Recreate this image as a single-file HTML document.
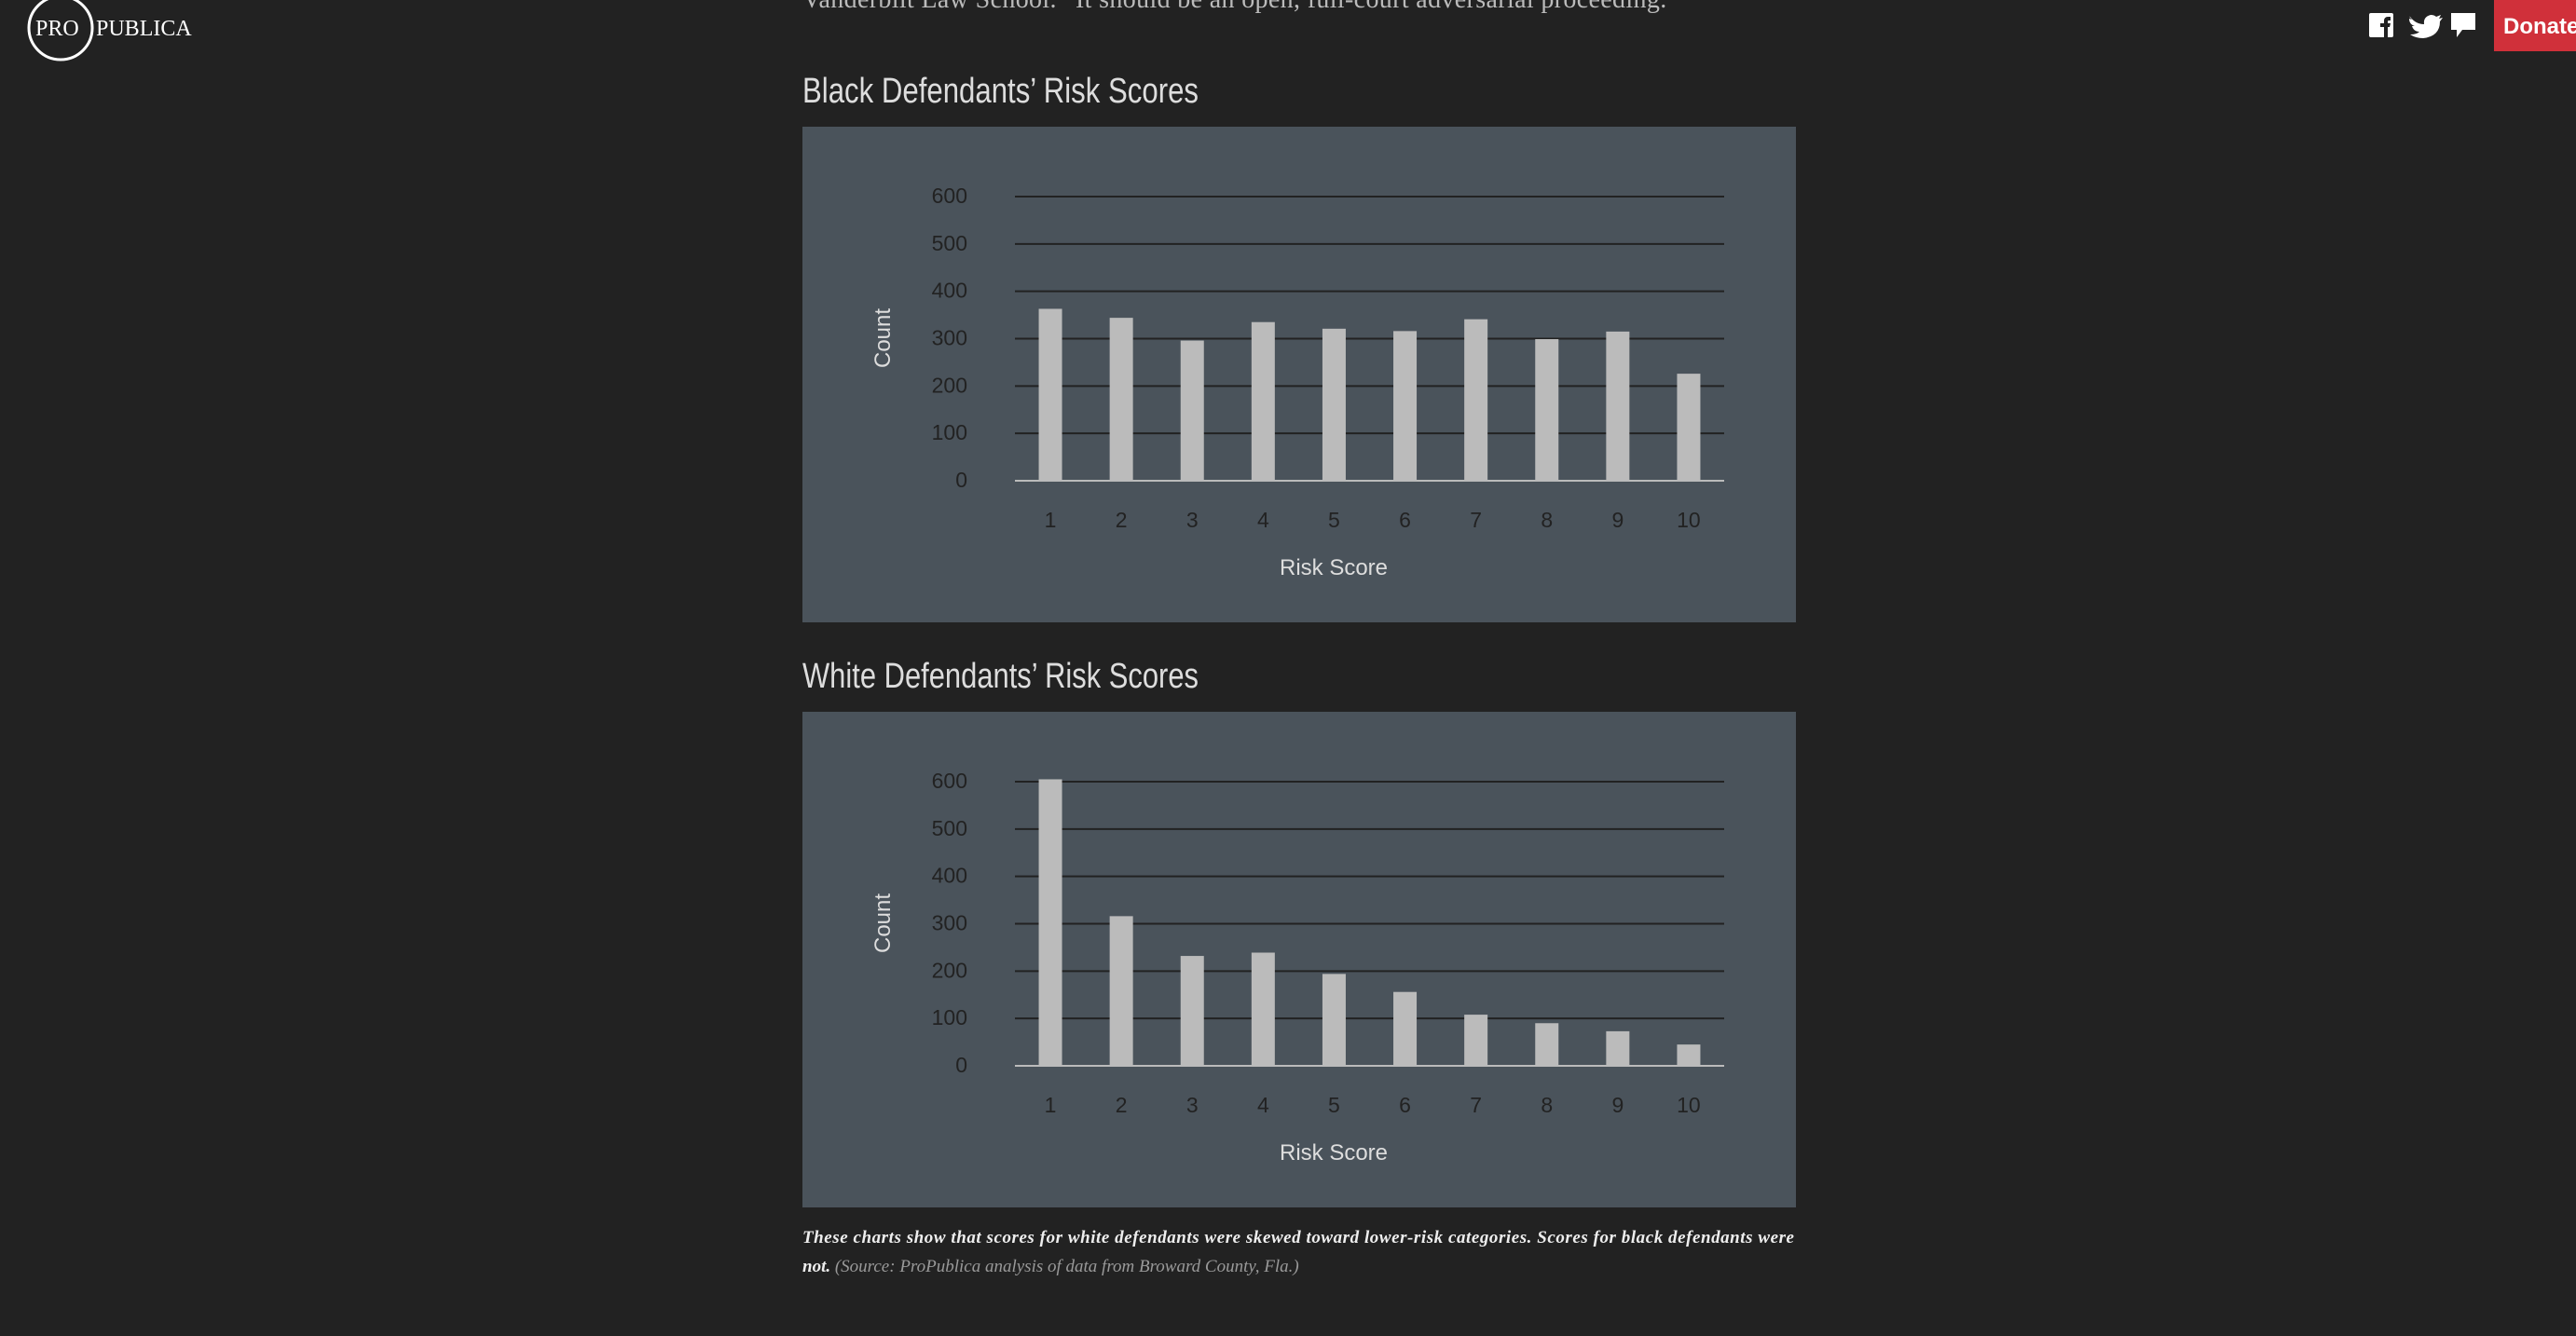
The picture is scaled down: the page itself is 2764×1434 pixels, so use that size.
<!DOCTYPE html>
<html><head><meta charset="utf-8"><style>
html,body{margin:0;padding:0;background:#222222;}
svg{display:block;}
</style></head><body>
<svg id="root" width="2764" height="1434" viewBox="0 0 2764 1434" xmlns="http://www.w3.org/2000/svg">
<rect x="0" y="0" width="2764" height="1434" fill="#222222"/>
<g>
<circle cx="65" cy="30" r="34" fill="none" stroke="#fff" stroke-width="3"/>
<text x="38" y="38" font-family="Liberation Serif, serif" font-size="24" fill="#fff">PRO</text>
<text x="103" y="38" font-family="Liberation Serif, serif" font-size="24" fill="#fff">PUBLICA</text>
</g>
<text x="861" y="8" font-family="Liberation Serif, serif" font-size="28" fill="#bbb" textLength="940">Vanderbilt Law School. “It should be an open, full-court adversarial proceeding.”</text>
<g>
<g>
<rect x="2542" y="14" width="26" height="26" rx="2" fill="#fff"/>
<path d="M2558 40 v-11 h-4 v-4 h4 v-3 a4 4 0 0 1 4 -4 h3 v4 h-2 a1 1 0 0 0 -1 1 v2 h3 l-1 4 h-2 v11z" fill="#222"/>
</g>
<path d="M2586 18 q6 8 15 8 q-1 -8 7 -10 q4 0 6 2 l5 -2 l-2 4 l4 -1 l-3 4 q0 16 -18 18 q-8 0 -14 -4 q7 0 10 -3 q-6 0 -8 -6 l3 0 q-6 -2 -6 -8 l3 1 q-4 -4 -2 -3z" fill="#fff"/>
<path d="M2630 14 h26 v18 h-14 l-6 8 v-8 h-6z" fill="#fff"/>
</g>
<rect x="2676" y="0" width="88" height="55" fill="#d0303a"/>
<text x="2686" y="36" font-family="Liberation Sans, sans-serif" font-weight="bold" font-size="24" fill="#fff" pointer-events="none">Donate</text>

<g id="c1"></g>
<g id="c2"></g>

<text x="861" y="1334" font-family="Liberation Serif, serif" font-style="italic" font-weight="bold" font-size="19" fill="#eee" textLength="1064">These charts show that scores for white defendants were skewed toward lower-risk categories. Scores for black defendants were</text>
<text x="861" y="1365" font-family="Liberation Serif, serif" font-style="italic" font-size="19" fill="#999"><tspan font-weight="bold" fill="#eee">not.</tspan> (Source: ProPublica analysis of data from Broward County, Fla.)</text>
</svg>
<script>
const categories = ["1","2","3","4","5","6","7","8","9","10"];
const blackValues = [363, 344, 296, 335, 321, 316, 341, 299, 315, 226];
const whiteValues = [605, 316, 232, 239, 194, 156, 108, 90, 73, 45];
const yTicks = [0, 100, 200, 300, 400, 500, 600];
const NS = "http://www.w3.org/2000/svg";
function mk(tag, attrs, parent){const e=document.createElementNS(NS,tag);for(const k in attrs)e.setAttribute(k,attrs[k]);parent.appendChild(e);return e;}
function drawChart(g, offY, title, values, prefix){
  const plotL=1089, plotR=1850, y0=516+offY, pxPer=305/600;
  const yScale=v=>y0-v*pxPer;
  const band=(plotR-plotL)/categories.length;
  const xScale=i=>plotL+band*(i+0.5);
  const t=mk("text",{x:861,y:110+offY,"font-family":"Liberation Sans, sans-serif","font-size":38,fill:"#dddddd",textLength:425,lengthAdjust:"spacingAndGlyphs"},g);
  t.textContent=title;
  
  
  const p=mk("rect",{x:861,y:136+offY,width:1066,height:532,fill:"#4a535b"},g);
  
  
  yTicks.forEach(v=>{
    const y=yScale(v);
    const l=mk("line",{x1:plotL,x2:plotR,y1:y,y2:y,stroke:v===0?"#bbbbbb":"#222222","stroke-width":2},g);
    
    
    const tx=mk("text",{x:1038,y:y+7,"text-anchor":"end","font-family":"Liberation Sans, sans-serif","font-size":23,fill:"#222222"},g);
    tx.textContent=v;
    
    
  });
  values.forEach((v,i)=>{
    const b=mk("rect",{x:xScale(i)-12.5,y:yScale(v),width:25,height:v*pxPer,fill:"#bbbbbb"},g);
    
    
    const tx=mk("text",{x:xScale(i),y:566+offY,"text-anchor":"middle","font-family":"Liberation Sans, sans-serif","font-size":23,fill:"#222222"},g);
    tx.textContent=categories[i];
    
    
  });
  const xt=mk("text",{x:1431,y:617+offY,"text-anchor":"middle","font-family":"Liberation Sans, sans-serif","font-size":24,fill:"#dddddd"},g);
  xt.textContent="Risk Score";
  
  
  const yt=mk("text",{x:0,y:0,transform:`translate(955 ${363+offY}) rotate(-90)`,"text-anchor":"middle","font-family":"Liberation Sans, sans-serif","font-size":24,fill:"#dddddd"},g);
  yt.textContent="Count";
  
  
}
drawChart(document.getElementById("c1"),0,"Black Defendants’ Risk Scores",blackValues,"black");
drawChart(document.getElementById("c2"),628,"White Defendants’ Risk Scores",whiteValues,"white");
</script>
</body></html>
